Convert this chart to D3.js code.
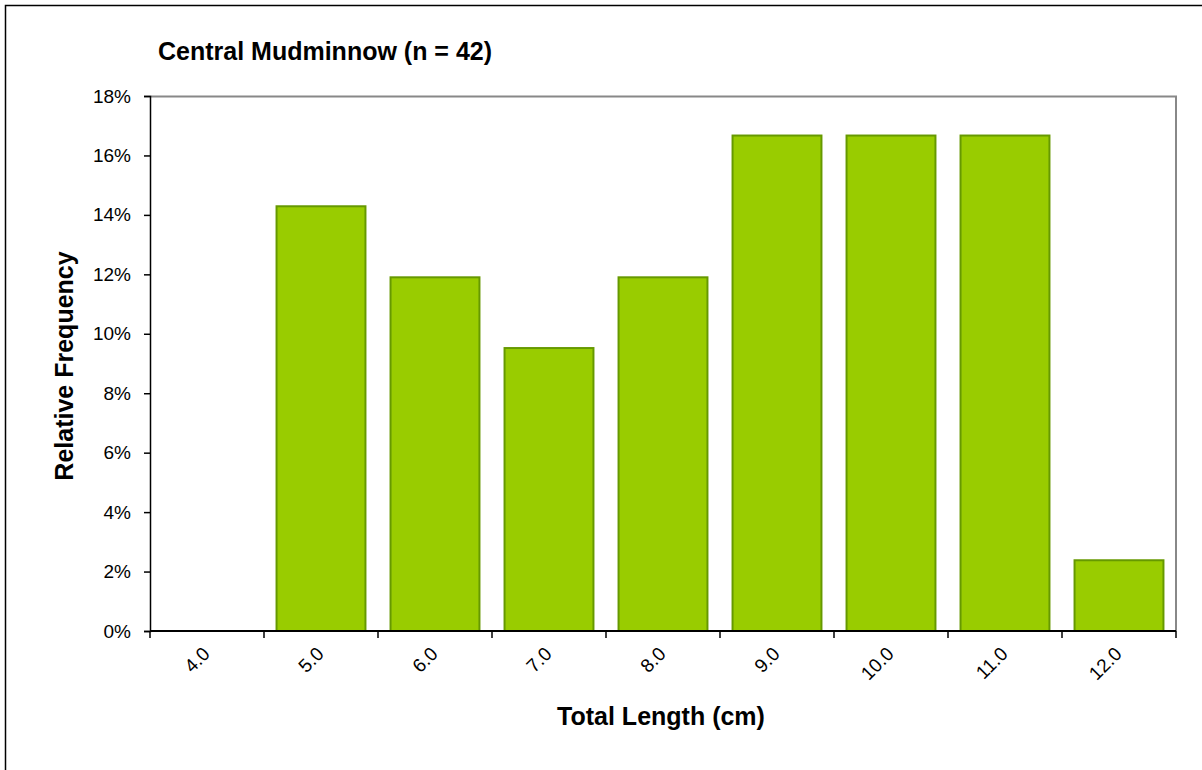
<!DOCTYPE html>
<html>
<head>
<meta charset="utf-8">
<script src="https://cdn.jsdelivr.net/npm/d3@7"></script>
<style>
  body { margin: 0; background: #fff; }
  text { font-family: "Liberation Sans", Arial, sans-serif; }
</style>
</head>
<body>
<div id="chart"></div>
<script>
// length classes and relative frequency (fraction of n = 42)
var lengths = ["4.0", "5.0", "6.0", "7.0", "8.0", "9.0", "10.0", "11.0", "12.0"];
var freqs = [0, 0.1429, 0.1190, 0.0952, 0.1190, 0.1667, 0.1667, 0.1667, 0.0238];
var yTicks = [0, 0.02, 0.04, 0.06, 0.08, 0.10, 0.12, 0.14, 0.16, 0.18];

var svgWidth = 1202, svgHeight = 770;
var margin = { top: 96, right: 26, bottom: 139, left: 150 };
var w = 1176 - margin.left;
var h = 631 - margin.top;

var svg = d3.select("#chart").append("svg")
  .attr("width", svgWidth)
  .attr("height", svgHeight);

// outer chart frame (runs off right / bottom)
svg.append("rect")
  .attr("x", 5.5).attr("y", 5.5)
  .attr("width", 1220).attr("height", 800)
  .attr("fill", "none")
  .attr("stroke", "#000")
  .attr("stroke-width", 1.5);

var g = svg.append("g")
  .attr("transform", `translate(${margin.left}, ${margin.top})`);

var x = d3.scaleBand()
  .domain(lengths)
  .range([0, w])
  .paddingInner(0.22)
  .paddingOuter(0.11);

var xTickScale = d3.scaleBand().domain(lengths).range([0, w]);

var y = d3.scaleLinear()
  .domain([0, 0.18])
  .range([h, 0]);

// plot border (top and right grey)
g.append("path")
  .attr("d", `M0,0.5H${w}V${h}`)
  .attr("fill", "none")
  .attr("stroke", "#888")
  .attr("stroke-width", 2);

// bars
g.selectAll("rect.bar")
  .data(freqs)
  .enter()
  .append("rect")
  .attr("class", "bar")
  .attr("x", (d, i) => x(lengths[i]))
  .attr("width", x.bandwidth())
  .attr("y", d => y(d))
  .attr("height", d => h - y(d))
  .attr("fill", "#99cc00")
  .attr("stroke", "#669900")
  .attr("stroke-width", 2)
  .style("display", d => d > 0 ? null : "none");

// y axis
var leftAxis = d3.axisLeft(y)
  .tickValues(yTicks)
  .tickFormat(d3.format(".0%"))
  .tickSize(6)
  .tickPadding(13);

var yg = g.append("g").call(leftAxis);
yg.select(".domain").attr("stroke", "#000").attr("stroke-width", 1.5);
yg.selectAll(".tick line").attr("stroke", "#000").attr("stroke-width", 1.5);
yg.selectAll("text")
  .style("font-size", "19px")
  .attr("fill", "#000");

// x axis: ticks on category boundaries
var bounds = lengths.map(d => xTickScale(d)).concat([w]);
var xg = g.append("g").attr("transform", `translate(0, ${h})`);
xg.append("line")
  .attr("x1", 0).attr("x2", w)
  .attr("stroke", "#000").attr("stroke-width", 2);
xg.selectAll("line.tk")
  .data(bounds)
  .enter()
  .append("line")
  .attr("class", "tk")
  .attr("x1", d => d).attr("x2", d => d)
  .attr("y1", 0).attr("y2", 7)
  .attr("stroke", "#000").attr("stroke-width", 1.5);

xg.selectAll("text.lbl")
  .data(lengths)
  .enter()
  .append("text")
  .attr("class", "lbl")
  .attr("transform", d => `translate(${xTickScale(d) + xTickScale.bandwidth() / 2 + 4}, 24) rotate(-45)`)
  .attr("text-anchor", "end")
  .style("font-size", "19px")
  .attr("fill", "#000")
  .text(d => d);

// titles
svg.append("text")
  .attr("x", 158).attr("y", 60)
  .style("font-size", "25px")
  .style("font-weight", "bold")
  .text("Central Mudminnow (n = 42)");

svg.append("text")
  .attr("x", 661).attr("y", 725)
  .attr("text-anchor", "middle")
  .style("font-size", "25px")
  .style("font-weight", "bold")
  .text("Total Length (cm)");

svg.append("text")
  .attr("transform", "translate(73, 366) rotate(-90)")
  .attr("text-anchor", "middle")
  .style("font-size", "25px")
  .style("font-weight", "bold")
  .text("Relative Frequency");
</script>
</body>
</html>
